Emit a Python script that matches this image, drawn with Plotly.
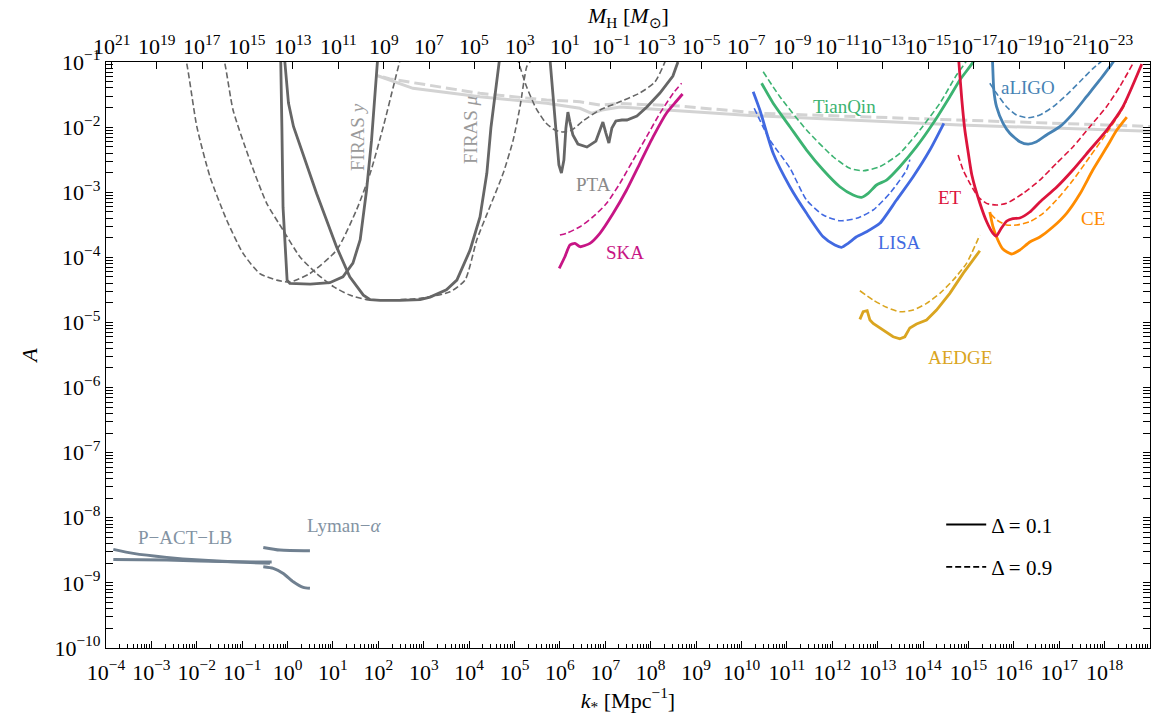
import numpy as np
import plotly.graph_objects as go

# ---------------- data (log10 k [Mpc^-1], log10 A) ----------------
firas_y_k = [-0.16, -0.15, -0.125, -0.10, -0.01, 0.05, 0.50, 0.93, 1.22, 1.44, 1.60, 1.74, 1.85, 1.93, 1.97, 1.99]
firas_y_A = [-0.90, -1.00, -2.00, -3.23, -4.35, -4.40, -4.41, -4.39, -4.30, -4.09, -3.73, -2.97, -2.20, -1.43, -1.00, -0.90]
firas_mu_k = [-0.07, -0.06, 0.02, 0.13, 0.64, 1.08, 1.37, 1.67, 1.82, 2.04, 2.48, 2.92, 3.14, 3.50, 3.73, 4.02, 4.24, 4.39, 4.48, 4.57, 4.66, 4.68]
firas_mu_A = [-0.90, -1.00, -1.63, -1.99, -3.02, -3.84, -4.30, -4.58, -4.65, -4.66, -4.66, -4.65, -4.61, -4.50, -4.35, -3.89, -3.38, -2.71, -2.01, -1.51, -1.00, -0.90]
firas_y_d_k = [-2.30, -2.24, -2.00, -1.71, -1.34, -0.98, -0.61, -0.24, 0.05, 0.49, 1.08, 1.52, 1.82, 2.11, 2.33, 2.48, 2.52]
firas_y_d_A = [-0.90, -0.97, -1.99, -2.76, -3.43, -3.94, -4.25, -4.35, -4.38, -4.25, -3.89, -3.27, -2.71, -1.99, -1.38, -0.97, -0.90]
firas_mu_d_k = [-1.46, -1.40, -1.20, -0.83, -0.46, -0.10, 0.27, 0.64, 1.01, 1.37, 1.74, 2.04, 2.92, 3.58, 3.91, 4.17, 4.46, 4.75, 4.97, 5.12, 5.27, 5.34, 5.37]
firas_mu_d_A = [-0.90, -0.97, -1.74, -2.51, -3.17, -3.58, -3.99, -4.25, -4.45, -4.58, -4.65, -4.66, -4.63, -4.53, -4.35, -3.73, -3.22, -2.71, -2.20, -1.69, -1.07, -1.00, -0.90]

pta_k = [5.78, 5.846, 5.923, 5.978, 6.033, 6.088, 6.132, 6.176, 6.22, 6.286, 6.396, 6.595, 6.793, 6.881, 6.947, 7.013, 7.079, 7.145, 7.233, 7.366, 7.476, 7.696, 7.916, 8.203, 8.489, 8.60]
pta_A = [-0.95, -1.507, -2.121, -2.582, -2.705, -2.505, -2.014, -1.77, -1.922, -2.121, -2.26, -2.306, -2.214, -2.045, -1.922, -2.091, -2.244, -2.014, -1.906, -1.891, -1.891, -1.829, -1.691, -1.476, -1.215, -1.0]
pta_d_k = [5.06, 5.075, 5.251, 5.471, 5.692, 5.89, 6.066, 6.264, 6.507, 6.881, 7.256, 7.762, 8.093, 8.313, 8.33]
pta_d_A = [-0.93, -0.969, -1.353, -1.707, -1.937, -2.045, -2.075, -2.045, -1.906, -1.737, -1.63, -1.476, -1.307, -1.0, -0.95]

bound_k = [1.969, 2.762, 4.238, 5.707, 6.441, 6.70, 6.925, 7.322, 8.35, 10.185, 14.811, 19.0]
bound_A = [-1.207, -1.404, -1.533, -1.634, -1.711, -1.788, -1.737, -1.691, -1.737, -1.822, -1.968, -2.062]
bound_d_k = [2.10, 2.256, 4.238, 5.707, 6.441, 6.881, 7.322, 8.643, 10.405, 14.811, 19.0]
bound_d_A = [-1.23, -1.261, -1.481, -1.584, -1.610, -1.661, -1.637, -1.676, -1.788, -1.891, -1.99]

ska_k = [5.985, 6.11, 6.22, 6.33, 6.441, 6.661, 6.881, 7.174, 7.469, 7.762, 8.055, 8.35, 8.57, 8.702]
ska_A = [-4.169, -3.991, -3.811, -3.785, -3.837, -3.785, -3.631, -3.324, -2.966, -2.556, -2.147, -1.783, -1.599, -1.491]
ska_d_k = [6.0, 6.148, 6.441, 6.733, 7.029, 7.322, 7.615, 7.91, 8.203, 8.496, 8.681]
ska_d_A = [-3.657, -3.631, -3.53, -3.376, -3.171, -2.863, -2.505, -2.147, -1.788, -1.481, -1.327]

lisa_k = [10.258, 10.405, 10.698, 11.066, 11.434, 11.8, 12.057, 12.205, 12.35, 12.535, 12.756, 13.048, 13.416, 13.782, 14.15, 14.458]
lisa_A = [-1.456, -1.737, -2.402, -2.916, -3.324, -3.684, -3.811, -3.846, -3.785, -3.684, -3.607, -3.478, -3.12, -2.762, -2.352, -1.942]
lisa_d_k = [10.28, 10.626, 11.066, 11.434, 11.8, 12.167, 12.535, 12.901, 13.269, 13.637, 13.709]
lisa_d_A = [-1.71, -2.198, -2.628, -3.12, -3.35, -3.438, -3.401, -3.273, -3.017, -2.659, -2.50]

tq_k = [10.443, 10.698, 11.066, 11.434, 11.8, 12.167, 12.46, 12.645, 12.791, 12.976, 13.196, 13.489, 13.857, 14.222, 14.59, 14.811, 15.104, 15.15]
tq_A = [-1.327, -1.634, -1.994, -2.352, -2.659, -2.916, -3.043, -3.078, -3.017, -2.889, -2.813, -2.608, -2.301, -1.942, -1.533, -1.276, -1.0, -0.93]
tq_d_k = [10.478, 10.846, 11.434, 12.02, 12.388, 12.681, 13.048, 13.489, 13.93, 14.37, 14.738, 14.94, 14.98]
tq_d_A = [-1.149, -1.533, -2.045, -2.455, -2.633, -2.67, -2.608, -2.402, -2.045, -1.634, -1.2, -1.0, -0.93]

et_k = [14.78, 14.789, 14.855, 14.921, 14.987, 15.075, 15.251, 15.405, 15.537, 15.615, 15.714, 15.846, 15.978, 16.132, 16.352, 16.573, 16.947, 17.30, 17.674, 18.048, 18.40, 18.819]
et_A = [-0.90, -1.0, -1.584, -2.045, -2.352, -2.736, -3.166, -3.458, -3.627, -3.673, -3.565, -3.442, -3.404, -3.396, -3.304, -3.151, -2.920, -2.659, -2.352, -2.045, -1.691, -1.031]
et_d_k = [14.773, 14.883, 15.031, 15.213, 15.399, 15.619, 15.839, 16.205, 16.573, 16.94, 17.306, 17.674, 18.042, 18.335, 18.628]
et_d_A = [-2.429, -2.659, -2.863, -3.069, -3.171, -3.197, -3.171, -3.017, -2.813, -2.556, -2.301, -1.994, -1.687, -1.379, -1.02]

ce_k = [15.471, 15.537, 15.648, 15.758, 15.949, 16.132, 16.352, 16.573, 16.859, 17.167, 17.454, 17.74, 18.048, 18.269, 18.489]
ce_A = [-3.304, -3.519, -3.734, -3.873, -3.949, -3.888, -3.765, -3.688, -3.535, -3.32, -3.028, -2.659, -2.306, -2.045, -1.845]
ce_d_k = [15.493, 15.626, 15.839, 16.059, 16.352, 16.645, 16.94, 17.306, 17.674, 18.042, 18.335, 18.482]
ce_d_A = [-3.335, -3.427, -3.504, -3.504, -3.453, -3.324, -3.12, -2.813, -2.455, -2.095, -1.788, -1.61]

ligo_k = [15.52, 15.531, 15.559, 15.619, 15.764, 15.912, 16.132, 16.315, 16.5, 16.72, 17.013, 17.306, 17.601, 17.894, 18.187, 18.23]
ligo_A = [-0.9, -1.0, -1.43, -1.687, -1.942, -2.095, -2.224, -2.26, -2.224, -2.121, -1.994, -1.788, -1.533, -1.276, -1.0, -0.93]
ligo_d_k = [15.471, 15.619, 15.839, 16.059, 16.315, 16.573, 16.866, 17.161, 17.454, 17.747, 17.967]
ligo_d_A = [-1.327, -1.481, -1.687, -1.814, -1.856, -1.814, -1.687, -1.507, -1.303, -1.097, -0.969]

aedge_k = [12.608, 12.681, 12.769, 12.83, 12.901, 13.011, 13.121, 13.231, 13.341, 13.489, 13.599, 13.709, 13.857, 14.077, 14.297, 14.59, 14.883, 15.251]
aedge_A = [-4.952, -4.836, -4.82, -4.963, -5.014, -5.066, -5.117, -5.167, -5.22, -5.25, -5.22, -5.084, -5.025, -4.963, -4.81, -4.553, -4.246, -3.899]
aedge_d_k = [12.608, 12.901, 13.196, 13.489, 13.782, 14.077, 14.37, 14.663, 14.958, 15.251]
aedge_d_A = [-4.513, -4.656, -4.768, -4.836, -4.81, -4.707, -4.553, -4.349, -4.092, -3.657]

pact_up_k = [-3.839, -3.399, -2.663, -1.93, -1.196, -0.388]
pact_up_A = [-8.485, -8.547, -8.608, -8.65, -8.676, -8.70]
pact_lo_k = [-3.839, -2.663, -1.196, -0.35]
pact_lo_A = [-8.639, -8.65, -8.676, -8.68]
lya_up_k = [-0.535, -0.167, 0.493]
lya_up_A = [-8.455, -8.496, -8.507]
lya_lo_k = [-0.535, -0.315, -0.095, 0.126, 0.346, 0.493]
lya_lo_A = [-8.753, -8.777, -8.854, -8.983, -9.069, -9.084]

# horizon mass: log10 M_H = MH_offset - 2 log10 k
MH_offset = 13.234
k_range_log = [-4, 19]
A_range_log = [-10, -1]

labels = ["FIRAS <i>y</i>", "FIRAS <i>μ</i>", "PTA", "SKA", "TianQin", "LISA", "ET", "aLIGO", "CE", "AEDGE", "P−ACT−LB", "Lyman−<i>α</i>"]
label_k = [1.529, 4.018, 6.749, 7.432, 12.278, 13.489, 14.59, 16.308, 17.74, 14.811, -2.26, 1.264]
label_A = [-2.152, -2.045, -2.889, -3.919, -1.691, -3.765, -3.074, -1.399, -3.396, -5.531, -8.296, -8.112]
label_colors = ["#9a9a9a", "#9a9a9a", "#8a8a8a", "#C71585", "#3CB371", "#4169E1", "#DC143C", "#4682B4", "#FF8C00", "#DAA520", "#8393a3", "#8393a3"]
label_rot = [-90, -90, 0, 0, 0, 0, 0, 0, 0, 0, 0, 0]

DARK = "#666666"
LIGHT = "#d3d3d3"
SLATE = "#708090"

fig = go.Figure()

def add(k, A, color, width, dash="solid", shape="spline"):
    fig.add_trace(go.Scatter(
        x=10 ** np.array(k), y=10 ** np.array(A), mode="lines",
        line=dict(color=color, width=width, dash=dash, shape=shape, smoothing=0.6),
        showlegend=False, hoverinfo="skip"))

DSH = "6px,3px"
add(bound_d_k, bound_d_A, LIGHT, 3, "11px,5px", "linear")
add(bound_k, bound_A, LIGHT, 3, "solid", "linear")
add(firas_y_d_k, firas_y_d_A, DARK, 1.6, DSH)
add(firas_mu_d_k, firas_mu_d_A, DARK, 1.6, DSH)
add(firas_y_k, firas_y_A, DARK, 2.8, "solid", "linear")
add(firas_mu_k, firas_mu_A, DARK, 2.8, "solid", "linear")
add(pta_d_k, pta_d_A, DARK, 1.6, DSH)
add(pta_k, pta_A, DARK, 2.8, "solid", "linear")
add(ska_d_k, ska_d_A, "#C71585", 1.6, DSH)
add(ska_k, ska_A, "#C71585", 2.8)
add(lisa_d_k, lisa_d_A, "#4169E1", 1.6, DSH)
add(lisa_k, lisa_A, "#4169E1", 2.8)
add(tq_d_k, tq_d_A, "#3CB371", 1.6, DSH)
add(tq_k, tq_A, "#3CB371", 2.8)
add(ligo_d_k, ligo_d_A, "#4682B4", 1.6, DSH)
add(ligo_k, ligo_A, "#4682B4", 2.8)
add(ce_d_k, ce_d_A, "#FF8C00", 1.6, DSH)
add(ce_k, ce_A, "#FF8C00", 2.8)
add(et_d_k, et_d_A, "#DC143C", 1.6, DSH)
add(et_k, et_A, "#DC143C", 2.8)
add(aedge_d_k, aedge_d_A, "#DAA520", 1.6, DSH)
add(aedge_k, aedge_A, "#DAA520", 2.8, "solid", "linear")
add(pact_up_k, pact_up_A, SLATE, 3, "solid")
add(pact_lo_k, pact_lo_A, SLATE, 3, "solid")
add(lya_up_k, lya_up_A, SLATE, 3, "solid")
add(lya_lo_k, lya_lo_A, SLATE, 3, "solid")

fig.add_trace(go.Scatter(x=[None], y=[None], mode="lines", line=dict(color="black", width=2),
                         name="Δ = 0.1", legendgroup="a"))
fig.add_trace(go.Scatter(x=[None], y=[None], mode="lines", line=dict(color="black", width=1.6, dash=DSH),
                         name="Δ = 0.9", legendgroup="b"))

MH_range_log = [MH_offset - 2 * k_range_log[0], MH_offset - 2 * k_range_log[1]]
fig.add_trace(go.Scatter(x=[10 ** MH_range_log[0], 10 ** MH_range_log[1]], y=[1e-5, 1e-5],
                         xaxis="x2", mode="lines", line=dict(width=0), opacity=0,
                         showlegend=False, hoverinfo="skip"))

for t, kx, ay, c, r in zip(labels, label_k, label_A, label_colors, label_rot):
    fig.add_annotation(x=kx, y=ay, text=t, showarrow=False, textangle=r,
                       font=dict(color=c, size=19))

def pw(n):
    s = str(n).replace("-", "−")
    return f"10<sup>{s}</sup>"

kx_ticks = list(range(-4, 19))
ay_ticks = list(range(-10, 0))
mh_ticks = list(range(21, -24, -2))

# top-axis (horizon mass) tick labels
for n in mh_ticks:
    fig.add_annotation(x=n, xref="x2", y=1, yref="paper", yanchor="bottom", yshift=1,
                       text=pw(n), showarrow=False, font=dict(size=22, color="black"))
fig.add_annotation(x=0.5, xref="paper", y=1, yref="paper", yanchor="bottom", yshift=29,
                   text="<i>M</i><sub>H</sub> [<i>M</i><sub>⊙</sub>]", showarrow=False,
                   font=dict(size=22, color="black"))

def minor_vals(lo, hi):
    return [m * 10.0 ** n for n in range(lo, hi) for m in range(2, 10)]

axis_common = dict(showgrid=False, zeroline=False, showline=True, linecolor="black", linewidth=1.2,
                   ticks="inside", ticklen=7, tickwidth=1, tickcolor="black", automargin=False,
                   tickfont=dict(size=22))

fig.update_layout(
    width=1158, height=722,
    margin=dict(l=106, r=8, t=62, b=74),
    paper_bgcolor="white", plot_bgcolor="white",
    font=dict(family="Liberation Serif", size=21, color="black"),
    xaxis=dict(type="log", range=k_range_log, tickmode="array",
               tickvals=[10.0 ** n for n in kx_ticks], ticktext=[pw(n) for n in kx_ticks],
               mirror=True, ticklabelstandoff=4,
               minor=dict(ticks="inside", ticklen=4, tickcolor="black", tickmode="array",
                          tickvals=minor_vals(-4, 19), showgrid=False),
               title=dict(text="<i>k</i><sub>*</sub> [Mpc<sup>−1</sup>]", standoff=6, font=dict(size=22)),
               **axis_common),
    xaxis2=dict(type="log", range=MH_range_log, overlaying="x", side="top", anchor="y",
                tickmode="array", tickvals=[10.0 ** n for n in mh_ticks], showticklabels=False,
                **axis_common),
    yaxis=dict(type="log", range=A_range_log, tickmode="array",
               tickvals=[10.0 ** n for n in ay_ticks], ticktext=[pw(n) for n in ay_ticks],
               mirror="allticks",
               minor=dict(ticks="inside", ticklen=4, tickcolor="black", tickmode="array",
                          tickvals=minor_vals(-10, -1), showgrid=False),
               title=dict(text="<i>A</i>", standoff=10, font=dict(size=22)),
               **axis_common),
    legend=dict(x=0.8, y=0.245, xanchor="left", yanchor="top", bgcolor="rgba(0,0,0,0)",
                font=dict(size=21), tracegroupgap=12, itemwidth=40),
)

fig.write_html("out.html")
